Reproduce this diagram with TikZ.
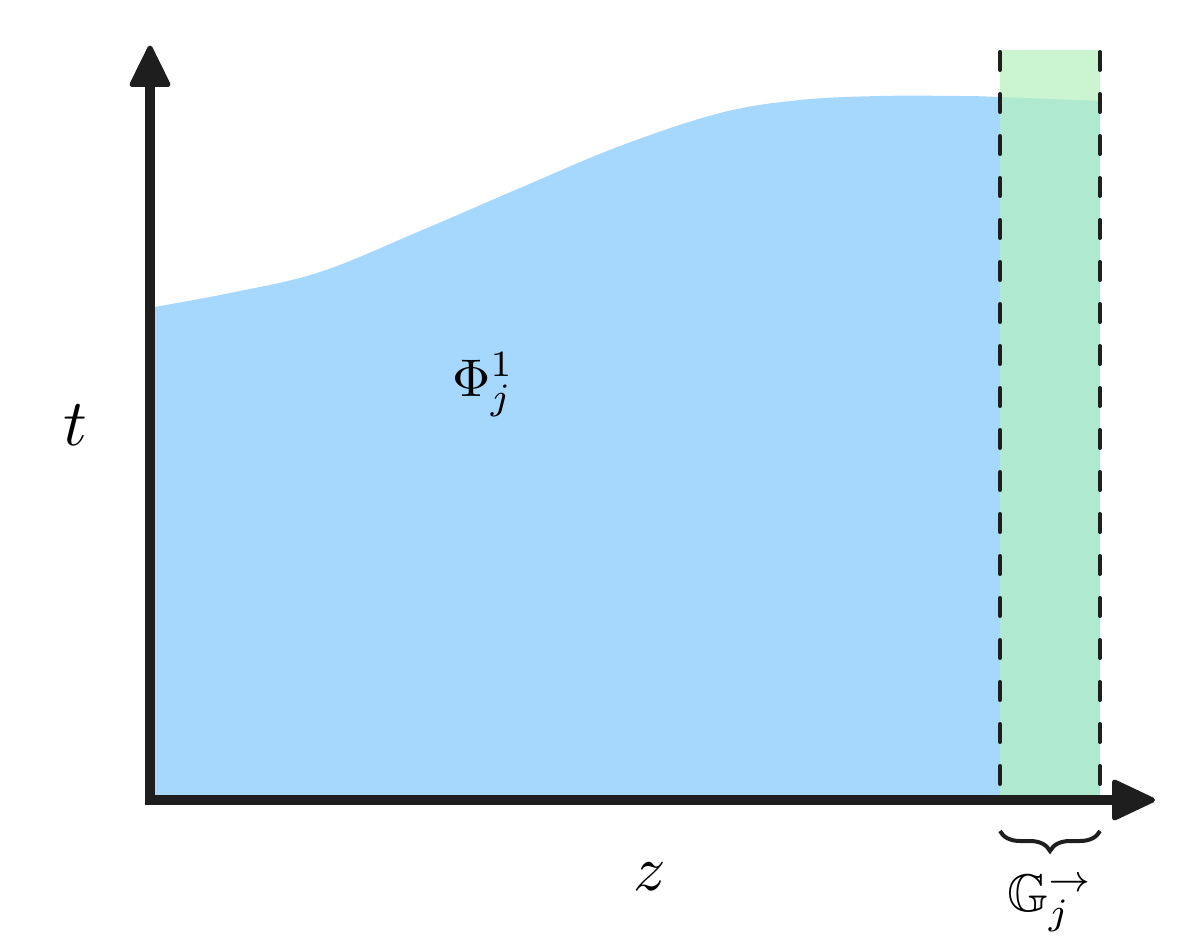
\documentclass[tikz,border=0pt]{standalone}
\usepackage{amssymb}
\usetikzlibrary{decorations.pathreplacing}
\definecolor{axiscol}{HTML}{1E1E1E}
\definecolor{fillblue}{HTML}{A6D8FD}
\definecolor{fillgreen}{RGB}{180,241,188}
\tikzset{
  axisline/.style={draw=axiscol, line width=10pt, line join=miter},
  axistip/.style={fill=axiscol, draw=axiscol, line width=5pt, line join=round},
  bounddash/.style={draw=axiscol, line width=4pt, line cap=round, dash pattern=on 18pt off 24pt},
  lbl/.style={inner sep=0pt, text=black},
}
\begin{document}
\begin{tikzpicture}[x=1pt,y=-1pt]
\useasboundingbox (0,0) rectangle (1200,950);
% regions
\fill[fillblue] plot[smooth, tension=0.6] coordinates {(154,307) (230,293) (320,272) (420,231) (520,188) (620,146) (720,113) (800,100) (880,96) (960,96) (1000,97) (1100,101)} -- (1100,800) -- (154,800) -- cycle;
\fill[fillgreen, opacity=0.7] (1000,50) rectangle (1100,800);
% dashed bounds
\coordinate (d1t) at (1000,52);
\coordinate (d1b) at (1000,797);
\coordinate (d2t) at (1100,52);
\coordinate (d2b) at (1100,797);
\draw[bounddash] (d1t) -- (d1b);
\draw[bounddash] (d2t) -- (d2b);
% axes
\coordinate (O) at (150,800);
\coordinate (ytop) at (150,86);
\coordinate (xend) at (1115,800);
\draw[axisline] (ytop) -- (O) -- (xend);
\filldraw[axistip] (150,48) -- (168,84.5) -- (132,84.5) -- cycle;
\filldraw[axistip] (1152.5,800) -- (1114.5,782) -- (1114.5,818) -- cycle;
% brace
\coordinate (bl) at (1000,831);
\coordinate (br) at (1100,831);
\draw[axiscol, line width=4pt, decorate, decoration={brace, mirror, amplitude=20pt}] (bl) -- (br);
% labels
\node[lbl, scale=5.3, anchor=base west] (phi) at (451,396) {$\Phi^1_j$};
\node[lbl, scale=6.6, anchor=base] (tlab) at (75,445) {$t$};
\node[lbl, scale=6.4, anchor=base] (zlab) at (650,890) {$z$};
\node[lbl, scale=5.3, anchor=base west] (glab) at (1006,911) {$\mathbb{G}_j^{\rightarrow}$};
\end{tikzpicture}
\end{document}
